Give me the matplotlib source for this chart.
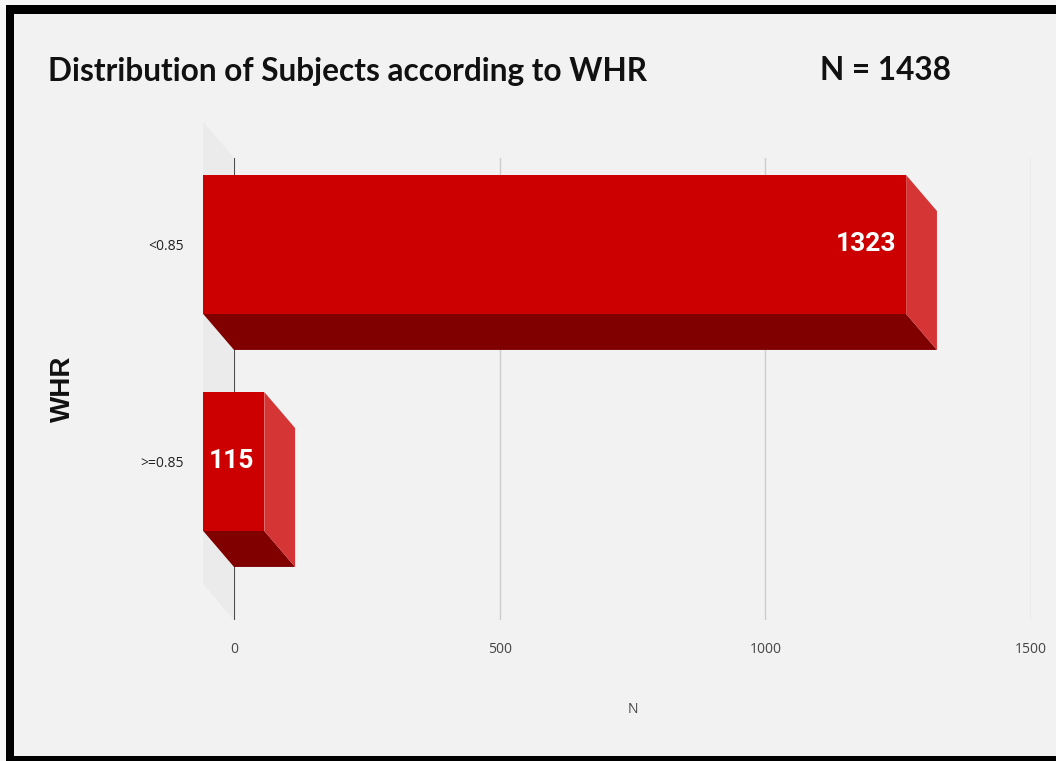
import numpy as np
import matplotlib
matplotlib.use("Agg")
import matplotlib.pyplot as plt
from matplotlib.patches import Polygon, Rectangle

# data
categories = ["<0.85", ">=0.85"]
counts = [1323, 115]
total_n = 1438
x_ticks = [0, 500, 1000, 1500]

# 3d look: depth of the bars in data units (x) and category units (y)
DEPTH_X = 58
DEPTH_Y = 0.166
BAR_H = 0.64

FRONT = "#cc0000"
BOTTOM = "#800000"
SIDE = "#d63535"
BG = "#f2f2f2"

W, H = 1056, 761
fig = plt.figure(figsize=(W / 100, H / 100), dpi=100)
fig.patch.set_facecolor("#f7f7f7")


def px_rect(x0, y0, x1, y1, color):
    # rectangle given in pixel coords from the top-left corner
    fig.patches.append(Rectangle((x0 / W, 1 - y1 / H), (x1 - x0) / W, (y1 - y0) / H,
                                 transform=fig.transFigure, facecolor=color,
                                 edgecolor="none", zorder=-10))


# black frame, open on the right
px_rect(6, 5, W + 10, 761 + 10, "black")
px_rect(14, 14, W + 10, 756, BG)

ax = fig.add_axes([234 / W, 1 - 620 / H, (1031 - 234) / W, (620 - 158) / H])
ax.set_facecolor(BG)
ax.set_xlim(0, 1500)
ax.set_ylim(1.5645, -0.5645)
for s in ax.spines.values():
    s.set_visible(False)

ax.set_xticks(x_ticks)
ax.set_xticklabels([str(t) for t in x_ticks], fontsize=10, color="#444444",
                   family="Open Sans")
ax.tick_params(axis="x", length=0, pad=16)
ax.grid(axis="x", color="#cccccc", linewidth=1)
ax.set_axisbelow(True)

# left wall
y0, y1 = ax.get_ylim()
wall = Polygon([(0, y1), (0, y0), (-DEPTH_X, y0 - DEPTH_Y), (-DEPTH_X, y1 - DEPTH_Y)],
               closed=True, facecolor="#ebebeb", edgecolor="none", clip_on=False, zorder=0)
ax.add_patch(wall)
ax.axvline(0, color="#333333", linewidth=1.2, zorder=1)

ypos = np.arange(len(categories))
for y, v in zip(ypos, counts):
    top, bot = y - BAR_H / 2, y + BAR_H / 2
    # bottom face
    ax.add_patch(Polygon([(-DEPTH_X, bot - DEPTH_Y), (v - DEPTH_X, bot - DEPTH_Y), (v, bot), (0, bot)],
                         closed=True, facecolor=BOTTOM, edgecolor="none", clip_on=False, zorder=3))
    # right side face
    ax.add_patch(Polygon([(v - DEPTH_X, top - DEPTH_Y), (v, top), (v, bot), (v - DEPTH_X, bot - DEPTH_Y)],
                         closed=True, facecolor=SIDE, edgecolor="none", clip_on=False, zorder=3))
    # front face
    ax.add_patch(Rectangle((-DEPTH_X, top - DEPTH_Y), v, BAR_H, facecolor=FRONT,
                           edgecolor="none", clip_on=False, zorder=4))
    ax.annotate(str(v), xy=(v - DEPTH_X, y - DEPTH_Y), xytext=(-7, 0), textcoords="offset points",
                ha="right", va="center", color="white", fontsize=19, fontweight="bold",
                family="Roboto", zorder=5)

ax.set_yticks(ypos - DEPTH_Y)
ax.set_yticklabels(categories, fontsize=10, color="#222222", family="Open Sans")
ax.tick_params(axis="y", length=0, pad=36)

ax.set_xlabel("N", fontsize=10, color="#444444", family="Open Sans", labelpad=32)
fig.text(63 / W, 1 - 389 / H, "WHR", rotation=90, ha="center", va="center",
         fontsize=20, fontweight="bold", family="Liberation Sans", color="#111111")

fig.text(48 / W, 1 - 71 / H, "Distribution of Subjects according to WHR", ha="left", va="center",
         fontsize=22.8, family="Lato", fontweight="bold", color="#111111")
fig.text(820 / W, 1 - 71 / H, f"N = {total_n}", ha="left", va="center",
         fontsize=22.8, family="Lato", fontweight="bold", color="#111111")

fig.savefig("out.png", dpi=100, facecolor=fig.get_facecolor())
